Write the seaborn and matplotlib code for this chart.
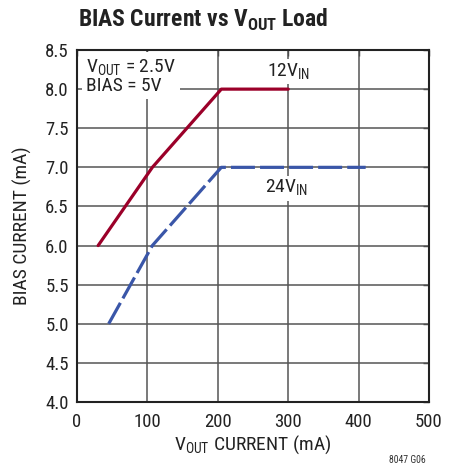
import matplotlib
matplotlib.use("Agg")
import matplotlib.pyplot as plt
from matplotlib import font_manager
import seaborn as sns
import pandas as pd

# --- chart data ---
x_12v = [30, 107, 205, 300]
y_12v = [6.0, 7.0, 8.0, 8.0]
x_24v = [45, 107, 205, 410]
y_24v = [5.0, 6.0, 7.0, 7.0]
series_names = ["12V", "24V"]

x_ticks = [0, 100, 200, 300, 400, 500]
y_ticks = [4.0, 4.5, 5.0, 5.5, 6.0, 6.5, 7.0, 7.5, 8.0, 8.5]

df = pd.DataFrame({
    "load": x_12v + x_24v,
    "bias": y_12v + y_24v,
    "vin": [series_names[0]] * len(x_12v) + [series_names[1]] * len(x_24v),
})

# pick the narrowest family that is actually installed
installed = {f.name for f in font_manager.fontManager.ttflist}
main_font = next(f for f in ["Roboto Condensed", "Liberation Sans Narrow", "Roboto", "DejaVu Sans"]
                 if f in installed)

sns.set_style("white")
plt.rcParams["font.family"] = [main_font, "DejaVu Sans"]
plt.rcParams["mathtext.fontset"] = "custom"
plt.rcParams["mathtext.rm"] = main_font
plt.rcParams["mathtext.bf"] = main_font + ":bold"

fig = plt.figure(figsize=(4.59, 4.71), dpi=100)
ax = fig.add_axes([0.1678, 0.1465, 0.7669, 0.7473])

# grid drawn by hand so the label boxes can sit on top of it
for xv in x_ticks[1:-1]:
    ax.axvline(xv, color="#555555", lw=1.1, zorder=1)
for yv in y_ticks[1:-1]:
    ax.axhline(yv, color="#555555", lw=1.1, zorder=1)

sns.lineplot(data=df, x="load", y="bias", hue="vin", style="vin",
             palette={"12V": "#9b0029", "24V": "#3a56a8"},
             dashes={"12V": "", "24V": (7.5, 1.6)},
             lw=2.3, legend=False, ax=ax, zorder=3, sort=False)

ax.set_xlim(0, 500)
ax.set_ylim(4.0, 8.5)
ax.set_xticks(x_ticks)
ax.set_yticks(y_ticks)
ax.set_yticklabels([f"{v:.1f}" for v in y_ticks])
ax.tick_params(axis="both", direction="in", length=4, width=1, color="#333333",
               labelsize=13.5, labelcolor="#222222", top=True, right=True)
ax.tick_params(axis="x", pad=8)
ax.tick_params(axis="y", pad=6)
for sp in ax.spines.values():
    sp.set_linewidth(1.5)
    sp.set_color("#222222")
    sp.set_zorder(4)

ax.set_xlabel(r"V$_{\mathrm{OUT}}$ CURRENT (mA)", fontsize=14, color="#222222")
ax.set_ylabel("BIAS CURRENT (mA)", fontsize=14, color="#222222")
ax.xaxis.set_label_coords(0.5, -0.09)
ax.yaxis.set_label_coords(-0.128, 0.5)

box = dict(facecolor="white", edgecolor="none", pad=1.5)
ax.text(0.025, 0.978, "V$_{\\mathrm{OUT}}$ = 2.5V\nBIAS = 5V", transform=ax.transAxes,
        ha="left", va="top", fontsize=14, color="#222222", linespacing=0.95,
        bbox=dict(facecolor="white", edgecolor="none", pad=3), zorder=2)
ax.text(300, 8.16, "12V$_{\\mathrm{IN}}$", ha="center", va="baseline",
        fontsize=14, color="#222222", bbox=box, zorder=2)
ax.text(297, 6.67, "24V$_{\\mathrm{IN}}$", ha="center", va="baseline",
        fontsize=14, color="#222222", bbox=box, zorder=2)

fig.text(0.17, 0.943, r"BIAS Current vs V$_{\mathbf{OUT}}$ Load", ha="left", va="baseline",
         fontsize=17, fontweight="bold", color="#222222")
fig.text(0.888, 0.012, "8047 G06", ha="center", va="bottom", fontsize=7, color="#333333")

fig.savefig("out.png", dpi=100)
